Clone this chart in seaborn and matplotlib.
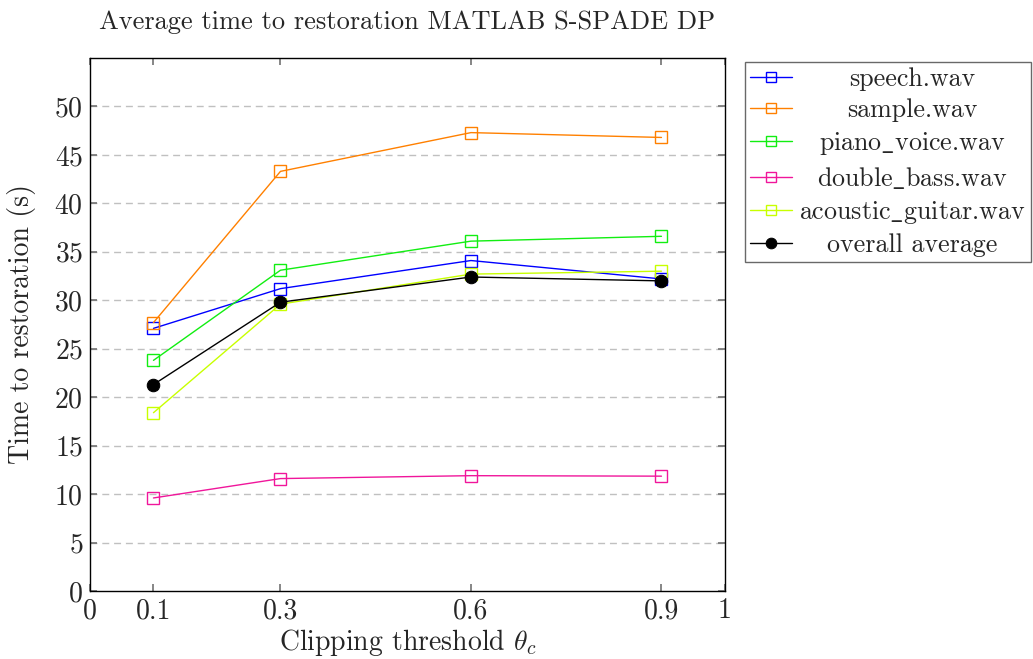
import numpy as np
import pandas as pd
import seaborn as sns
import matplotlib.pyplot as plt

# clipping thresholds and restoration times (s)
thresholds = [0.1, 0.3, 0.6, 0.9]
speech = [27.1, 31.2, 34.1, 32.2]
sample = [27.7, 43.3, 47.3, 46.8]
piano_voice = [23.8, 33.1, 36.1, 36.6]
double_bass = [9.6, 11.6, 11.9, 11.85]
acoustic_guitar = [18.4, 29.6, 32.7, 33.0]
overall = [21.3, 29.8, 32.4, 32.0]

names = ["speech.wav", "sample.wav", "piano_voice.wav", "double_bass.wav",
         "acoustic_guitar.wav", "overall average"]
colors = ["#0000ff", "#ff8000", "#11ee11", "#f0169b", "#c8ff00", "#000000"]

sns.set_theme(style="white")
plt.rcParams["font.family"] = ["cmr10", "DejaVu Serif"]
plt.rcParams["mathtext.fontset"] = "cm"
plt.rcParams["axes.formatter.use_mathtext"] = True

df = pd.DataFrame({
    "thr": thresholds * 6,
    "t": speech + sample + piano_voice + double_bass + acoustic_guitar + overall,
    "series": np.repeat(names, 4),
})

fig = plt.figure(figsize=(10.33, 6.59), dpi=100)
ax = fig.add_axes([0.0871, 0.1032, 0.6147, 0.8088])

for i, name in enumerate(names):
    sub = df[df["series"] == name]
    lab = name.replace("_", r"$\_$")  # cmr10 has no plain underscore
    if name == "overall average":
        sns.lineplot(data=sub, x="thr", y="t", ax=ax, color=colors[i], lw=1,
                     marker="o", markersize=9, mfc=colors[i], mec=colors[i], label=lab)
    else:
        sns.lineplot(data=sub, x="thr", y="t", ax=ax, color=colors[i], lw=1,
                     marker="s", markersize=8, mfc="none", mec=colors[i], mew=1, label=lab)

ax.set_xlim(0, 1)
ax.set_ylim(0, 55)
ax.set_xticks([0, 0.1, 0.3, 0.6, 0.9, 1])
ax.set_xticklabels(["0", "0.1", "0.3", "0.6", "0.9", "1"])
ax.set_yticks(range(0, 55, 5))
ax.tick_params(axis="both", direction="in", length=5, color="#777777",
               labelsize=20, pad=5, top=True, right=True, bottom=True, left=True)
for y in range(5, 55, 5):
    ax.axhline(y, color="#c0c0c0", lw=1, ls=(0, (5, 3.5)), zorder=0)
for s in ax.spines.values():
    s.set_color("black")
    s.set_linewidth(1)

ax.set_xlabel(r"Clipping threshold $\theta_c$", fontsize=20, labelpad=2)
ax.set_ylabel("Time to restoration (s)", fontsize=20, labelpad=13)
ax.set_title("Average time to restoration MATLAB S-SPADE DP", fontsize=19, pad=21)

leg = ax.legend(loc="upper left", bbox_to_anchor=(0.721, 0.906),
                bbox_transform=fig.transFigure, fontsize=18.7, frameon=True,
                fancybox=False, edgecolor="#444444", borderaxespad=0,
                handlelength=1.6, handletextpad=0.3, borderpad=0.2,
                labelspacing=0.3, markerscale=0.85)
leg.get_frame().set_linewidth(1)

# centre the legend labels in their column, as pgfplots does
fig.canvas.draw()
rend = fig.canvas.get_renderer()
texts = leg.get_texts()
exts = [t.get_window_extent(rend) for t in texts]
xc = (min(e.x0 for e in exts) + max(e.x1 for e in exts)) / 2
W, H = fig.bbox.width, fig.bbox.height
for t, e in zip(texts, exts):
    fig.text(xc / W, (e.y0 + e.y1) / 2 / H, t.get_text(), ha="center", va="center",
             fontsize=18.7)
    t.set_visible(False)

fig.savefig("out.png", dpi=100)
